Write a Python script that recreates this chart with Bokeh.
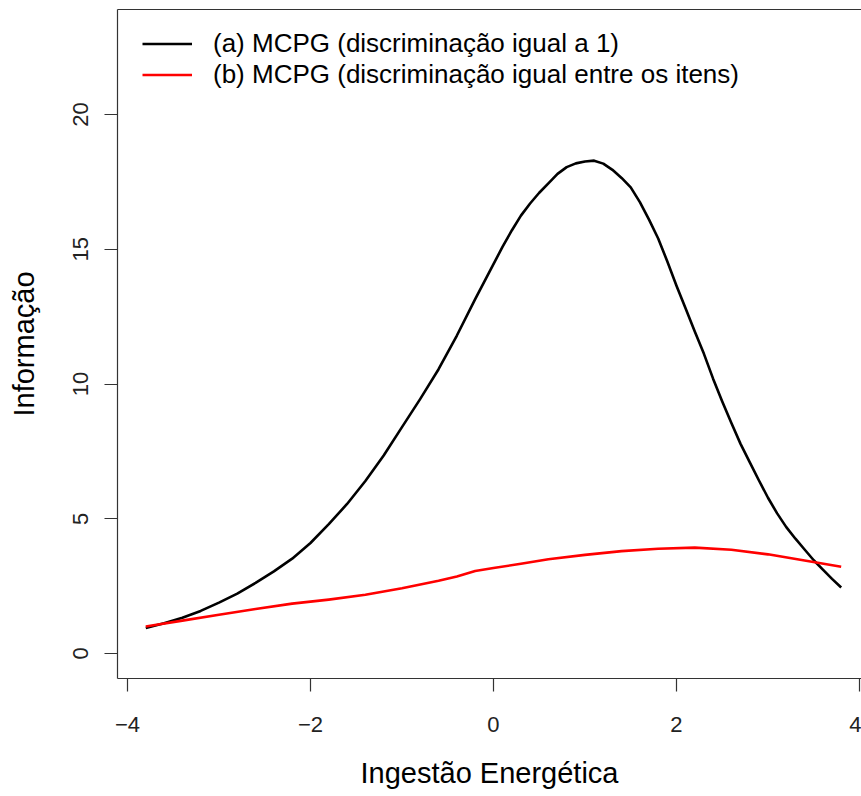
from bokeh.plotting import figure
from bokeh.models import Range1d, FixedTicker, LinearAxis, Legend, LegendItem
from bokeh.embed import file_html
from bokeh.resources import INLINE

# Data
theta_a = [-3.8, -3.6, -3.4, -3.2, -3.0, -2.8, -2.6, -2.4, -2.2, -2.0, -1.8, -1.6, -1.4, -1.2,
           -1.0, -0.8, -0.6, -0.4, -0.2, 0.0, 0.1, 0.2, 0.3, 0.4, 0.5, 0.6, 0.7, 0.8, 0.9, 1.0, 1.1,
           1.2, 1.3, 1.4, 1.5, 1.6, 1.7, 1.8, 1.9, 2.0, 2.1, 2.2, 2.3, 2.4, 2.5, 2.6, 2.7, 2.8,
           2.9, 3.0, 3.1, 3.2, 3.3, 3.4, 3.5, 3.6, 3.7, 3.8]
info_a = [0.95, 1.12, 1.33, 1.58, 1.89, 2.22, 2.62, 3.05, 3.52, 4.10, 4.80, 5.55, 6.40, 7.35,
          8.40, 9.45, 10.55, 11.8, 13.15, 14.45, 15.1, 15.7, 16.25, 16.7, 17.1, 17.45, 17.8, 18.05, 18.19, 18.26, 18.29,
          18.18, 17.95, 17.65, 17.3, 16.75, 16.1, 15.4, 14.55, 13.65, 12.8, 11.95, 11.12, 10.2, 9.35, 8.55, 7.78, 7.1,
          6.43, 5.78, 5.2, 4.69, 4.26, 3.86, 3.46, 3.11, 2.77, 2.45]

theta_b = [-3.8, -3.4, -3.0, -2.6, -2.2, -1.8, -1.4, -1.0, -0.6, -0.4, -0.2, 0.0, 0.3, 0.6,
           1.0, 1.4, 1.8, 2.2, 2.6, 3.0, 3.4, 3.8]
info_b = [1.0, 1.22, 1.44, 1.65, 1.85, 2.0, 2.18, 2.42, 2.70, 2.86, 3.06, 3.17, 3.33, 3.50,
          3.66, 3.80, 3.89, 3.93, 3.85, 3.68, 3.45, 3.22]

x_ticks = [-4, -2, 0, 2, 4]
y_ticks = [0, 5, 10, 15, 20]

label_a = "(a) MCPG (discriminação igual a 1)"
label_b = "(b) MCPG (discriminação igual entre os itens)"
x_title = "Ingestão Energética"
y_title = "Informação"

FONT = "Liberation Sans"
AX = "#333333"

p = figure(width=861, height=796, output_backend="svg", toolbar_location=None,
           x_range=Range1d(-4.109, 4.022), y_range=Range1d(-0.928, 23.90),
           min_border_left=117, min_border_right=0, min_border_top=9, min_border_bottom=118,
           background_fill_color="white", border_fill_color="white")
p.outline_line_color = None
p.grid.visible = False

r_a = p.line(theta_a, info_a, line_color="black", line_width=2.6, line_join="round")
r_b = p.line(theta_b, info_b, line_color="#FF0000", line_width=2.6, line_join="round")

for ax in (p.xaxis[0], p.yaxis[0]):
    ax.axis_line_color = AX
    ax.axis_line_width = 1.2
    ax.major_tick_line_color = AX
    ax.major_tick_line_width = 1.2
    ax.major_tick_in = 0
    ax.major_tick_out = 13
    ax.minor_tick_line_color = None
    ax.major_label_text_font = FONT
    ax.major_label_text_font_size = "22px"
    ax.major_label_text_color = "#222222"
    ax.axis_label_text_font = FONT
    ax.axis_label_text_font_size = "29px"
    ax.axis_label_text_font_style = "normal"
    ax.axis_label_text_color = "black"

p.xaxis[0].ticker = FixedTicker(ticks=x_ticks)
p.yaxis[0].ticker = FixedTicker(ticks=y_ticks)
p.xaxis[0].axis_label = x_title
p.yaxis[0].axis_label = y_title
p.yaxis[0].major_label_orientation = "vertical"
p.xaxis[0].major_label_standoff = 25
p.yaxis[0].major_label_standoff = 16
p.xaxis[0].axis_label_standoff = 22
p.yaxis[0].axis_label_standoff = 31

top = LinearAxis(ticker=FixedTicker(ticks=[]), major_label_text_font_size="0px",
                 major_tick_line_color=None, minor_tick_line_color=None,
                 axis_line_color=AX, axis_line_width=1.2)
p.add_layout(top, "above")

legend = Legend(items=[LegendItem(label=label_a, renderers=[r_a]),
                       LegendItem(label=label_b, renderers=[r_b])],
                location=(25, 588))
legend.border_line_color = None
legend.background_fill_alpha = 0
legend.padding = 0
legend.margin = 0
legend.spacing = 0
legend.glyph_width = 50
legend.glyph_height = 31
legend.label_height = 31
legend.label_standoff = 21
legend.label_text_font = FONT
legend.label_text_font_size = "26px"
legend.label_text_color = "black"
p.add_layout(legend, "center")

open("out.html", "w").write(file_html(p, INLINE))
